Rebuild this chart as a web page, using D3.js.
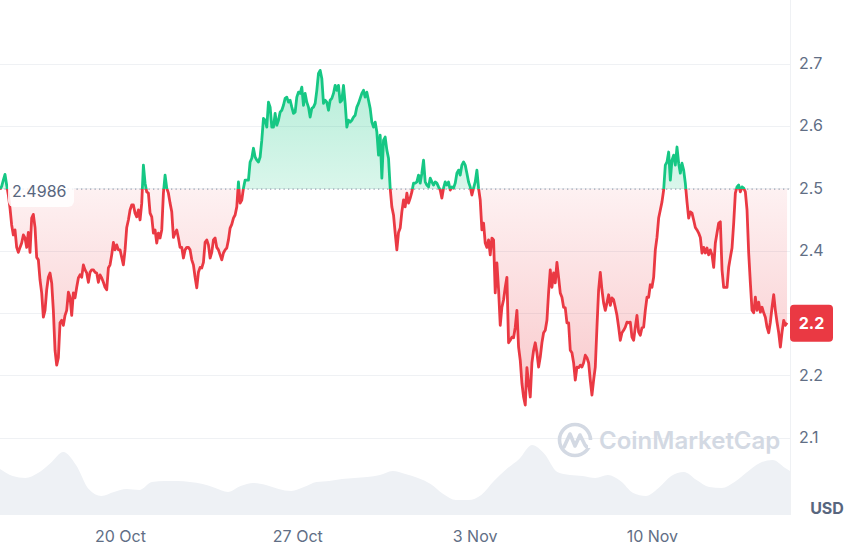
<!DOCTYPE html>
<html><head><meta charset="utf-8">
<script src="https://cdn.jsdelivr.net/npm/d3@7"></script>
<style>
html,body{margin:0;padding:0;background:#fff;}
svg{display:block;font-family:Inter,"Noto Sans",sans-serif;}
</style></head><body>
<svg id="chart" width="855" height="545"></svg>
<script>
// ---- data ----
const prices = [
2.498,2.503,2.513,2.522,2.505,2.489,2.468,2.441,2.425,2.433,
2.405,2.397,2.405,2.412,2.425,2.420,2.405,2.429,2.397,2.452,
2.458,2.437,2.389,2.385,2.353,2.332,2.293,2.304,2.337,2.357,
2.364,2.348,2.304,2.240,2.216,2.228,2.284,2.288,2.280,2.296,
2.304,2.333,2.325,2.296,2.332,2.324,2.341,2.356,2.361,2.357,
2.377,2.369,2.364,2.349,2.365,2.369,2.369,2.365,2.364,2.349,
2.361,2.356,2.349,2.341,2.337,2.372,2.377,2.393,2.413,2.401,
2.409,2.401,2.401,2.389,2.377,2.401,2.437,2.449,2.465,2.473,
2.473,2.460,2.454,2.465,2.449,2.476,2.537,2.508,2.494,2.492,
2.460,2.454,2.428,2.433,2.412,2.428,2.420,2.433,2.492,2.521,
2.500,2.492,2.476,2.462,2.421,2.428,2.433,2.420,2.405,2.405,
2.388,2.401,2.405,2.405,2.401,2.385,2.377,2.357,2.340,2.365,
2.373,2.372,2.381,2.413,2.417,2.409,2.388,2.397,2.417,2.420,
2.405,2.401,2.393,2.385,2.396,2.401,2.404,2.417,2.436,2.442,
2.452,2.457,2.470,2.510,2.476,2.481,2.500,2.513,2.513,2.513,
2.542,2.548,2.564,2.550,2.545,2.542,2.550,2.577,2.612,2.609,
2.598,2.638,2.630,2.598,2.598,2.620,2.601,2.609,2.622,2.625,
2.633,2.644,2.646,2.638,2.641,2.630,2.620,2.622,2.646,2.654,
2.652,2.662,2.633,2.652,2.638,2.630,2.614,2.628,2.630,2.636,
2.657,2.684,2.689,2.676,2.636,2.641,2.638,2.625,2.641,2.644,
2.652,2.665,2.657,2.665,2.638,2.641,2.665,2.636,2.598,2.609,
2.606,2.609,2.614,2.617,2.630,2.636,2.644,2.652,2.657,2.646,
2.654,2.641,2.628,2.606,2.598,2.606,2.590,2.553,2.585,2.516,
2.577,2.582,2.561,2.548,2.500,2.470,2.457,2.428,2.401,2.429,
2.436,2.462,2.481,2.470,2.492,2.476,2.484,2.494,2.508,2.508,
2.510,2.521,2.508,2.524,2.545,2.510,2.505,2.502,2.516,2.510,
2.505,2.510,2.508,2.502,2.497,2.484,2.500,2.510,2.505,2.510,
2.497,2.502,2.500,2.508,2.524,2.529,2.521,2.537,2.542,2.537,
2.524,2.510,2.502,2.489,2.500,2.510,2.529,2.500,2.481,2.433,
2.444,2.412,2.405,2.417,2.393,2.420,2.417,2.332,2.380,2.337,
2.280,2.309,2.321,2.341,2.357,2.252,2.256,2.261,2.260,2.277,
2.304,2.245,2.224,2.187,2.165,2.152,2.212,2.187,2.165,2.220,
2.240,2.252,2.236,2.213,2.229,2.252,2.268,2.272,2.288,2.333,
2.369,2.341,2.364,2.348,2.381,2.357,2.332,2.325,2.309,2.308,
2.284,2.284,2.240,2.236,2.220,2.192,2.213,2.212,2.216,2.213,
2.220,2.232,2.228,2.220,2.192,2.168,2.192,2.213,2.277,2.337,
2.365,2.337,2.316,2.304,2.316,2.329,2.312,2.324,2.321,2.309,
2.296,2.277,2.256,2.268,2.272,2.277,2.285,2.284,2.285,2.261,
2.256,2.277,2.296,2.269,2.264,2.276,2.277,2.304,2.325,2.325,
2.345,2.341,2.357,2.401,2.421,2.452,2.465,2.478,2.497,2.537,
2.542,2.558,2.513,2.545,2.553,2.537,2.566,2.540,2.524,2.540,
2.529,2.508,2.478,2.452,2.462,2.460,2.449,2.437,2.433,2.428,
2.421,2.396,2.405,2.396,2.404,2.393,2.401,2.393,2.373,2.412,
2.428,2.444,2.446,2.369,2.341,2.341,2.341,2.373,2.389,2.404,
2.444,2.492,2.502,2.505,2.494,2.502,2.500,2.494,2.465,2.396,
2.348,2.304,2.300,2.325,2.304,2.317,2.301,2.309,2.300,2.293,
2.277,2.268,2.285,2.309,2.329,2.304,2.285,2.268,2.245,2.269,
2.288,2.280,2.284
];
const volumes = [
92,78,74,84,104,126,100,52,38,46,
52,50,66,68,68,66,62,54,46,58,
64,60,52,48,56,66,68,72,74,76,
80,88,82,74,62,42,30,30,40,68,
92,112,140,122,86,80,78,74,80,68,
44,38,54,78,86,70,56,54,66,86,
104,110,94,78
];
const startTime = Date.UTC(2024, 9, 15, 6, 18);
const priceStepMinutes = 94.8;
const volumeStepMinutes = 720;
const spanDays = 31.19;
const baselinePrice = 2.4986;
const baselineLabel = "2.4986";
const currentPriceLabel = "2.2";
const yTickValues = [2.1, 2.2, 2.3, 2.4, 2.5, 2.6, 2.7];
// the 2.3 label is hidden behind the current-price tag in the reference
const yTickLabels = ["2.1", "2.2", "", "2.4", "2.5", "2.6", "2.7"];
const xTickDates = [Date.UTC(2024,9,20), Date.UTC(2024,9,27), Date.UTC(2024,10,3), Date.UTC(2024,10,10)];
const xTickLabels = ["20 Oct", "27 Oct", "3 Nov", "10 Nov"];
const unitLabel = "USD";
const watermark = "CoinMarketCap";

// ---- drawing ----
const W = 855, H = 545, plotW = 790, volBottom = 515;
const GREEN = "#16c784", RED = "#ea3943", TEXT = "#616e85";
const svg = d3.select("#chart");
const defs = svg.append("defs");

const priceData = prices.map((p, i) => ({t: new Date(startTime + i * priceStepMinutes * 60000), v: p}));
const volData = volumes.map((v, i) => ({t: new Date(startTime + i * volumeStepMinutes * 60000), v}));

const x = d3.scaleUtc().domain([new Date(startTime), new Date(startTime + spanDays * 86400000)]).range([0, plotW]);
const y = d3.scaleLinear().domain([2.1, 2.7]).range([437.5, 63.5]);
const yv = d3.scaleLinear().domain([0, 140]).range([volBottom, 445]);
const yBase = y(baselinePrice);

// clip paths
defs.append("clipPath").attr("id", "plotClip").append("rect").attr("x", 0).attr("y", 0).attr("width", plotW).attr("height", H);
defs.append("clipPath").attr("id", "above").append("rect").attr("x", -5).attr("y", 0).attr("width", plotW + 10).attr("height", yBase);
defs.append("clipPath").attr("id", "below").append("rect").attr("x", -5).attr("y", yBase).attr("width", plotW + 10).attr("height", H - yBase);

// gradients
const gG = defs.append("linearGradient").attr("id", "gGreen").attr("gradientUnits", "userSpaceOnUse")
  .attr("x1", 0).attr("x2", 0).attr("y1", y(2.69)).attr("y2", yBase);
gG.append("stop").attr("offset", 0).attr("stop-color", GREEN).attr("stop-opacity", 0.32);
gG.append("stop").attr("offset", 1).attr("stop-color", GREEN).attr("stop-opacity", 0.16);
const gR = defs.append("linearGradient").attr("id", "gRed").attr("gradientUnits", "userSpaceOnUse")
  .attr("x1", 0).attr("x2", 0).attr("y1", yBase).attr("y2", y(2.15));
gR.append("stop").attr("offset", 0).attr("stop-color", RED).attr("stop-opacity", 0.07);
gR.append("stop").attr("offset", 1).attr("stop-color", RED).attr("stop-opacity", 0.28);

// grid lines
svg.append("g").selectAll("line").data(yTickValues).join("line")
  .attr("x1", 0).attr("x2", plotW).attr("y1", d => Math.round(y(d)) + 0.5).attr("y2", d => Math.round(y(d)) + 0.5)
  .attr("stroke", "#eff1f4").attr("stroke-width", 1);

// volume
svg.append("path").datum(volData).attr("clip-path", "url(#plotClip)")
  .attr("d", d3.area().x(d => x(d.t)).y0(volBottom).y1(d => yv(d.v)).curve(d3.curveMonotoneX))
  .attr("fill", "#eef1f5");

// watermark
const wm = svg.append("g");
wm.append("circle").attr("cx", 575).attr("cy", 440).attr("r", 15.5).attr("fill", "none").attr("stroke", "#d3d9e3").attr("stroke-width", 3.6);
wm.append("path").attr("d", "M564,447 L570,434 L575,446 L580,435 L585,445 Q588,450 592,444")
  .attr("fill", "none").attr("stroke", "#d3d9e3").attr("stroke-width", 3.6).attr("stroke-linejoin", "round").attr("stroke-linecap", "round");
wm.append("rect").attr("x", 588).attr("y", 440).attr("width", 8).attr("height", 8).attr("fill", "#fff");
wm.append("text").attr("x", 599).attr("y", 449).attr("font-size", 24).attr("font-weight", 600)
  .attr("fill", "#d3d9e3").text(watermark);

// areas
const area = d3.area().x(d => x(d.t)).y0(yBase).y1(d => y(d.v));
svg.append("path").datum(priceData).attr("clip-path", "url(#above)").attr("d", area).attr("fill", "url(#gGreen)");
svg.append("path").datum(priceData).attr("clip-path", "url(#below)").attr("d", area).attr("fill", "url(#gRed)");

// baseline dotted
svg.append("line").attr("x1", 0).attr("x2", plotW).attr("y1", yBase).attr("y2", yBase)
  .attr("stroke", "#9aa3b1").attr("stroke-width", 1.2).attr("stroke-dasharray", "1.3,3.2");

// lines
const line = d3.line().x(d => x(d.t)).y(d => y(d.v));
svg.append("path").datum(priceData).attr("clip-path", "url(#above)").attr("d", line)
  .attr("fill", "none").attr("stroke", GREEN).attr("stroke-width", 2.8).attr("stroke-linejoin", "round");
svg.append("path").datum(priceData).attr("clip-path", "url(#below)").attr("d", line)
  .attr("fill", "none").attr("stroke", RED).attr("stroke-width", 2.8).attr("stroke-linejoin", "round");

// baseline label
const bl = svg.append("g");
bl.append("rect").attr("x", 8).attr("y", yBase - 14).attr("width", 66).attr("height", 32).attr("rx", 6)
  .attr("fill", "#fff").attr("opacity", 0.85);
bl.append("text").attr("x", 12).attr("y", yBase + 8).attr("font-size", 16).attr("fill", "#58667e").text(baselineLabel);

// right axis
svg.append("line").attr("x1", plotW + 0.5).attr("x2", plotW + 0.5).attr("y1", 0).attr("y2", volBottom)
  .attr("stroke", "#eff1f4");
const yAxis = svg.append("g").attr("transform", `translate(${plotW},0)`)
  .call(d3.axisRight(y).tickValues(yTickValues).tickFormat((d, i) => yTickLabels[i]).tickSize(0).tickPadding(9));
yAxis.select(".domain").remove();
yAxis.selectAll("text").attr("font-size", 16).attr("fill", TEXT).attr("font-family", "Inter");

// x axis
const xAxis = svg.append("g").attr("transform", `translate(0,${volBottom})`)
  .call(d3.axisBottom(x).tickValues(xTickDates.map(d => new Date(d))).tickFormat((d, i) => xTickLabels[i]).tickSize(0).tickPadding(16));
xAxis.select(".domain").remove();
xAxis.selectAll("text").attr("font-size", 16).attr("fill", TEXT).attr("font-family", "Inter");

// current price tag
const last = priceData[priceData.length - 1];
const ly = y(last.v);
svg.append("rect").attr("x", plotW).attr("y", ly - 18).attr("width", 43).attr("height", 37).attr("rx", 4).attr("fill", RED);
svg.append("text").attr("x", plotW + 21.5).attr("y", ly + 6).attr("text-anchor", "middle")
  .attr("font-size", 16).attr("font-weight", 700).attr("fill", "#fff").text(currentPriceLabel);

// unit label
svg.append("text").attr("x", 827).attr("y", 514).attr("text-anchor", "middle")
  .attr("font-size", 16).attr("font-weight", 700).attr("fill", "#58667e").text(unitLabel);
</script>
</body></html>
